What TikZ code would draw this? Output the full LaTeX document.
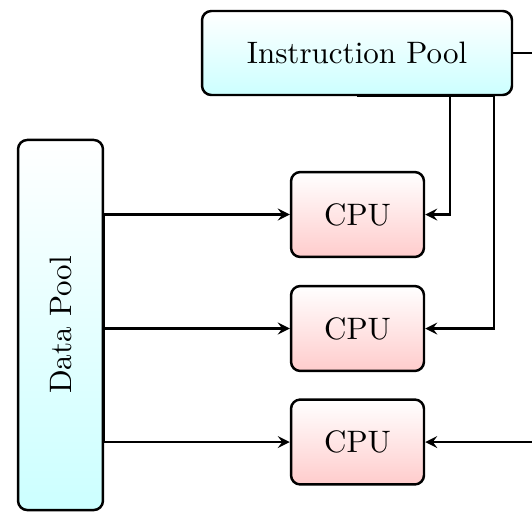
\documentclass[tikz,border=0pt]{standalone}
\usetikzlibrary{arrows}
\begin{document}
\begin{tikzpicture}[x=0.3226pt, y=-0.3226pt,
  box/.style={draw, thick, rounded corners=3pt, inner sep=0pt, align=center},
  pool/.style={box, top color=white, bottom color=cyan!20},
  cpubox/.style={box, top color=white, bottom color=red!20,
    minimum width=42.9pt, minimum height=27.4pt},
  conn/.style={line width=0.7pt, -stealth}]
  \useasboundingbox (0,0) rectangle (532,515);
  \clip (0,0) rectangle (532,515);

  % pools
  \node[pool, minimum width=100pt, minimum height=27.1pt] (ip) at (357,53) {Instruction Pool};
  \node[pool, minimum width=27.4pt, minimum height=119.4pt] (dp) at (60.5,325) {\rotatebox{90}{Data Pool}};

  % processors
  \node[cpubox] (cpu1) at (357.5,214.5) {CPU};
  \node[cpubox] (cpu2) at (357.5,328.5) {CPU};
  \node[cpubox] (cpu3) at (357.5,442) {CPU};

  % turning points of the instruction lines
  \coordinate (ja) at (450,0);
  \coordinate (jb) at (494,0);
  \coordinate (jc) at (548,0);

  % data lines
  \draw[conn] (dp.east) |- (cpu1.west);
  \draw[conn] (dp.east |- cpu2.west) -- (cpu2.west);
  \draw[conn] (dp.east) |- (cpu3.west);

  % instruction lines
  \draw[conn] (ip.south) -| (ja |- cpu1.east) -- (cpu1.east);
  \draw[conn] (ip.south) -| (jb |- cpu2.east) -- (cpu2.east);
  \draw[conn] (ip.east) -| (jc |- cpu3.east) -- (cpu3.east);
\end{tikzpicture}
\end{document}
